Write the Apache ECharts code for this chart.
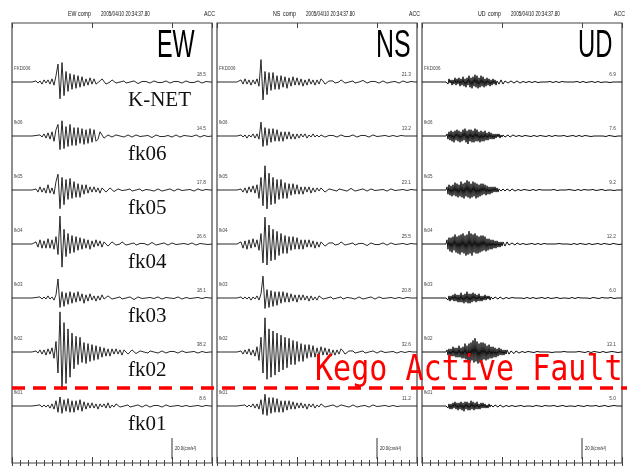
<!DOCTYPE html>
<html><head><meta charset="utf-8">
<script src="https://cdn.jsdelivr.net/npm/echarts@6/dist/echarts.min.js"></script>
<style>html,body{margin:0;padding:0;background:#fff}#c{width:627px;height:466px}</style>
</head><body><div id="c"></div>
<script>
// Station list, top to bottom
const stations = ['FKD006', 'fk06', 'fk05', 'fk04', 'fk03', 'fk02', 'fk01'];
const stationNames = ['K-NET', 'fk06', 'fk05', 'fk04', 'fk03', 'fk02', 'fk01'];
const components = ['EW', 'NS', 'UD'];
const recordTime = '2005/04/10 20:34:37.80';
const sampleSteps = { EW: 0.25, NS: 0.25, UD: 0.125 };   // seconds between samples
const duration = 25;          // seconds shown per panel
const scaleBarValue = 20.0;   // cm/s^2
const scaleBarUnit = '20.0(cm/s²)';
const faultLabel = 'Kego Active Fault';

// Horizontal records (cm/s^2), one sample every 0.25 s from t = 0
const ew_FKD006 = [0,0,0,0,0,0,0,0,0,0,0,0,
 1,-1,1,-2,2,-1,2,-2,3,
 -3,6,17,-16,18.5,-13,10,-9,8,-7,
 7,-6,6,-5,5,-4,3,-3,4,-2,
 3,-2,-3,1,3,2,-2,-3,0,2,
 2,-1,-2,0,1.5,1,-1,-1.5,0,1.5,
 1,-0.5,-1.5,-1,0.5,1.5,0.5,-1,-1,0.5,
 1,1,-0.5,-1.5,-0.5,1,1,0,-1,-1,
 0.5,1,0.5,-0.5,-1,0,1,0.5,-0.5,-1,
 -0.5,0.5,1,0,-1,-0.5,0.5,0.5,0,0];
const ew_fk06 = [0,0,0,0,0,0,0,0,0,0,0,0,
 0.5,-1,1,-1,2,-2,3,-3,4,
 -5,6,11,-13,14.5,-12,9,-10,11,-9,
 8,-9,8,-7,7,-8,6,-7,7,-6,
 6,-5,-3,4,3,-2,-3,1,2,-1,
 -1.5,1,1.5,0,-1,-1,0.5,1,0,-1,
 -0.5,1,1,-0.5,-1,0,1,0.5,-0.5,-1.5,
 0,1,1,-0.5,-1,-0.5,1,0.5,-0.5,-1,
 0,1,0.5,-1,-0.5,0.5,1,0,-1,-0.5,
 0.5,1,0,-1,-0.5,0.5,0.5,-0.5,0,0];
const ew_fk05 = [0,0,0,0,0,0,0,0,0,0,0,0,
 1,-2,3,-2,2,-3,5,-3,2,
 -4,8,15,-17.8,12,-14,10,-9,11,-8,
 8,-7,6,-7,5,-4,5,-3,3,-2,
 3,-2,2,-3,2,1,-2,-1,2,1,
 -1.5,-1,1,1.5,-0.5,-1.5,0,1.5,1,-1,
 -1.5,0,1,1,-1,-1,0.5,1.5,0,-1,
 -1,0.5,1,0.5,-1,-1,0,1,1,-0.5,
 -1,-0.5,1,0.5,-0.5,-1,0,1,0.5,-0.5,
 -1,0,1,0.5,-0.5,-0.5,0.5,0.5,0,0];
const ew_fk04 = [0,0,0,0,0,0,0,0,0,0,0,0,
 2,-3,4,-4,3,-4,5,-4,4,
 -5,7,-10,26.6,-22,14,-12,10,-9,8,
 -8,7,-6,6,-5,5,-4,4,-5,3,
 -3,4,-2,3,-3,2,1,-2,-2,2,
 2,-1,-2,0,2,1.5,-1,-2,0,1.5,
 1,-1,-1.5,0.5,1.5,0.5,-1,-1,0.5,1.5,
 0.5,-1,-1.5,0,1,1,-0.5,-1,0,1,
 0.5,-0.5,-1,0,1,0.5,-1,-0.5,0.5,1,
 0,-1,-0.5,0.5,1,0,-0.5,-0.5,0,0];
const ew_fk03 = [0,0,0,0,0,0,0,0,0,0,0,0,
 0.5,-1,1,-1,1,-1,2,-1,1,
 -2,3,18.1,-9,6,-8,5,-6,6,-5,
 5,-4,6,-3,4,-5,3,-3,4,-2,
 2,-3,2,-2,3,-1,-2,2,1,-1,
 -1.5,0,1.5,1,-1,-1,0,1,1,-0.5,
 -1.5,-0.5,1,1,-0.5,-1,0,1,0.5,-1,
 -0.5,0.5,1,0,-1,-0.5,0.5,1,0,-1,
 -0.5,0.5,1,0,-1,-0.5,0.5,0.5,-0.5,-0.5,
 0,0.5,0.5,-0.5,-0.5,0,0.5,0,0,0];
const ew_fk02 = [0,0,0,0,0,0,0,0,0,0,0,0,
 1,-1,2,-2,2,-3,3,-2,4,
 -6,10,-20,38.2,-36,28,-30,22,-24,18,
 -16,15,-12,14,-10,9,-11,8,-9,7,
 -8,6,-7,5,-5,4,-4,3,-4,3,
 -2,3,-2,2,-3,2,1,-2,-1,2,
 1,-1.5,-1,1,1.5,0,-1.5,-1,1,1.5,
 0,-1,-1,0.5,1,0.5,-1,-1,0.5,1,
 0.5,-0.5,-1,0,1,0.5,-0.5,-1,0,1,
 0.5,-0.5,-1,0,0.5,0.5,-0.5,0,0,0];
const ew_fk01 = [0,0,0,0,0,0,0,0,0,0,0,0,
 0.5,-0.5,1,-1,1,-1,1,-2,2,
 -3,5,-6,8.6,-7,6,-5,7,-6,5,
 -6,5,-4,6,-5,4,-3,3,-2,3,
 -2,2,-3,2,-1,2,-2,3,-2,1,
 -1,2,1,-1,-2,0,1.5,1,-1,-1.5,
 0,1,1,-0.5,-1,0,1,0.5,-1,-1,
 0.5,1,0.5,-0.5,-1,0,1,0.5,-0.5,-1,
 0,1,0.5,-0.5,-0.5,0.5,0.5,0,-0.5,-0.5,
 0,0.5,0.5,0,-0.5,0,0.5,0,0,0];

const ns_FKD006 = [0,0,0,0,0,0,0,0,0,0,0,0,
 2,-2,3,-2,2,-3,2,-2,3,
 -4,21.3,-17,10,-12,9,-8,9,-7,6,
 -7,6,-5,5,-6,4,-4,5,-3,4,
 -3,3,-4,2,-3,3,-2,2,-3,2,
 -2,3,1,-2,-2,1,2,1,-1,-2,
 0,2,1,-1,-1.5,0,1.5,1,-1,-1.5,
 0,1,1.5,0,-1,-1,0.5,1.5,0.5,-1,
 -1,0.5,1,0.5,-1,-1,0,1,0.5,-0.5,
 -1,0,1,0.5,-0.5,-0.5,0.5,0.5,0,0];
const ns_fk06 = [0,0,0,0,0,0,0,0,0,0,0,0,
 1,-1,1,-2,1,-1,2,-2,2,
 -3,13.2,-10,8,-9,7,-6,7,-5,6,
 -5,4,-5,4,-3,4,-3,2,-3,2,
 -2,2,-1,2,-2,1,-1,2,-1,1,
 -1,1,1,-1,-1,0.5,1,0.5,-1,-1,
 0,1,1,-0.5,-1,-0.5,1,1,0,-1,
 -1,0.5,1,0.5,-0.5,-1,0,1,0.5,-0.5,
 -1,0,1,0.5,-0.5,-0.5,0.5,0.5,0,-0.5,
 -0.5,0.5,0.5,0,-0.5,0,0.5,0,0,0];
const ns_fk05 = [0,0,0,0,0,0,0,0,0,0,0,0,
 1,-2,2,-3,3,-2,4,-3,5,
 -8,12,-15,23.1,-18,16,-14,12,-13,10,
 -9,10,-8,7,-8,6,-5,6,-4,5,
 -4,3,-4,3,-2,3,-3,2,-2,2,
 -1,2,1,-2,-1,1,2,0,-1.5,-1,
 1,1.5,0,-1,-1,0.5,1.5,0.5,-1,-1.5,
 0,1,1,-0.5,-1,-0.5,1,1,-0.5,-1,
 0,1,0.5,-0.5,-1,0,1,0.5,-0.5,-1,
 0,0.5,0.5,-0.5,-0.5,0.5,0.5,0,0,0];
const ns_fk04 = [0,0,0,0,0,0,0,0,0,0,0,0,
 2,-4,3,-5,4,-4,5,-3,4,
 -6,10,-18,25.5,-20,18,-16,14,-15,12,
 -11,10,-9,8,-9,7,-6,7,-5,6,
 -5,4,-5,4,-3,4,-3,3,-4,2,
 -3,2,2,-2,-2,1,2,1,-1,-2,
 0,2,1,-1,-2,0,1.5,1,-1,-1,
 0.5,1.5,0.5,-1,-1.5,0,1,1,-0.5,-1,
 -0.5,1,1,-0.5,-1,0,1,0.5,-0.5,-1,
 0,1,0.5,-0.5,-0.5,0.5,0.5,0,0,0];
const ns_fk03 = [0,0,0,0,0,0,0,0,0,0,0,0,
 1,-1,1,-1,1,-2,1,-1,2,
 -2,4,20.8,-10,8,-9,7,-8,6,-7,
 6,-5,6,-4,5,-4,4,-3,3,-4,
 3,-2,3,-2,2,-3,2,-2,1,-2,
 2,1,-1,-2,0,1.5,1,-1,-1.5,0,
 1.5,1,-1,-1,0.5,1.5,0,-1,-1,0.5,
 1,0.5,-1,-1,0,1,1,-0.5,-1,0,
 1,0.5,-0.5,-1,0,1,0.5,-0.5,-0.5,0.5,
 0.5,0,-0.5,-0.5,0.5,0.5,0,0,0,0];
const ns_fk02 = [0,0,0,0,0,0,0,0,0,0,0,0,
 1,-2,2,-2,3,-3,2,-4,5,
 -8,14,-20,32.6,-26,22,-24,20,-22,18,
 -19,16,-17,14,-15,13,-12,11,-12,10,
 -9,8,-9,7,-6,7,-5,6,-5,4,
 -4,5,-3,4,-3,3,-4,2,-3,2,
 -2,3,1,-2,-2,1,2,1,-1,-2,
 0,1.5,1,-1,-1.5,0,1,1,-0.5,-1,
 -0.5,1,1,-0.5,-1,0,1,0.5,-0.5,-1,
 0,0.5,0.5,-0.5,-0.5,0.5,0.5,0,0,0];
const ns_fk01 = [0,0,0,0,0,0,0,0,0,0,0,0,
 0.5,-1,1,-1,1,-1,2,-2,2,
 -3,6,-8,11.2,-9,8,-7,8,-6,7,
 -6,5,-6,5,-4,5,-3,4,-3,3,
 -2,3,-2,2,-3,2,-1,2,-2,1,
 -1,2,1,-1,-1.5,0,1,1,-0.5,-1,
 -0.5,1,1,0,-1,-1,0.5,1,0.5,-1,
 -1,0,1,0.5,-0.5,-1,0,1,0.5,-0.5,
 -1,0,0.5,0.5,-0.5,-0.5,0.5,0.5,0,-0.5,
 -0.5,0,0.5,0,-0.5,0,0.5,0,0,0];

// Vertical records (cm/s^2), one sample every 0.125 s from t = 0
const ud_FKD006 = [0,0,0,0,0,0,0,0,0,0,
 0,0,0,0,0,0,0,0,0,0,
 0,0,0,0,0,1,-2,3,-1,2,
 -3,2,-2,4,-3,3,-2,4,-4,3,
 -3,5,-4,3,-5,4,-3,6,-5,4,
 -6,5,-4,6.9,-5,6,-6,4,-5,6,
 -4,5,-5,3,-4,4,-3,3,-4,2,
 -3,3,-2,2,-3,1,2,-2,-1,2,
 1,-2,-1,1,2,0,-1,-1.5,0,1,
 1,0,-1,-1,0,1,0.5,-0.5,-1,0,
 0.5,0.5,0,-0.5,-0.5,0,0.5,0.5,0,-0.5,
 -0.5,0,0.5,0.5,0,-0.5,-0.5,0,0.5,0,
 -0.5,-0.5,0,0.5,0.5,0,-0.5,0,0.5,0.5,
 0,-0.5,-0.5,0,0.5,0,-0.5,-0.5,0,0.5,
 0.5,0,-0.5,0,0.5,0.5,0,-0.5,-0.5,0,
 0.5,0.5,0,-0.5,0,0.5,0,-0.5,-0.5,0,
 0.5,0.5,0,-0.5,-0.5,0,0.5,0,-0.5,0,
 0.5,0.5,0,-0.5,-0.5,0,0.5,0.5,0,-0.5,
 0,0.5,0,-0.5,-0.5,0,0.5,0,-0.5,0,
 0.5,0,-0.5,-0.5,0,0.5,0.5,0,-0.5,0,
 0];
const ud_fk06 = [0,0,0,0,0,0,0,0,0,0,
 0,0,0,0,0,0,0,0,0,0,
 0,0,0,0,0,2,-3,4,-4,5,
 -5,4,-6,5,-4,6,-5,5,-6,4,
 -5,6,-4,7,-6,5,-7.6,6,-5,6,
 -6,5,-6,7,-5,6,-5,4,-6,5,
 -5,4,-5,5,-4,3,-4,4,-3,3,
 -3,2,-3,2,-2,2,-1,2,-2,1,
 -1,1,1,-1,-1,0.5,1,0,-1,-0.5,
 0.5,1,0,-0.5,-0.5,0,0.5,0.5,0,-0.5,
 -0.5,0,0.5,0.5,0,-0.5,0,0.5,0,-0.5,
 -0.5,0,0.5,0.5,0,-0.5,-0.5,0,0.5,0,
 -0.5,0,0.5,0,-0.5,-0.5,0,0.5,0.5,0,
 -0.5,-0.5,0,0.5,0,-0.5,0,0.5,0.5,0,
 -0.5,0,0.5,0,-0.5,-0.5,0,0.5,0,-0.5,
 0,0.5,0.5,0,-0.5,-0.5,0,0.5,0,-0.5,
 -0.5,0,0.5,0.5,0,-0.5,0,0.5,0,-0.5,
 0,0.5,0,-0.5,-0.5,0,0.5,0.5,0,-0.5,
 -0.5,0,0.5,0,-0.5,0,0.5,0.5,0,-0.5,
 0,0.5,0,-0.5,0,0.5,0,-0.5,0,0,
 0];
const ud_fk05 = [0,0,0,0,0,0,0,0,0,0,
 0,0,0,0,0,0,0,0,0,0,
 0,0,0,0,0,3,-4,5,-5,4,
 -6,5,-5,7,-6,6,-7,5,-6,8,
 -7,6,-8,7,-6,9.2,-7,8,-8,6,
 -7,8,-6,7,-8,6,-7,5,-6,6,
 -5,6,-4,5,-5,4,-4,3,-4,3,
 -3,3,-2,3,-2,2,-2,1,2,-1,
 -2,1,1,-1,-1,1,1,-0.5,-1,0,
 1,0.5,-0.5,-1,0,0.5,0.5,0,-0.5,-0.5,
 0,0.5,0.5,0,-0.5,0,0.5,0,-0.5,-0.5,
 0,0.5,0.5,0,-0.5,-0.5,0,0.5,0,-0.5,
 0,0.5,0.5,0,-0.5,-0.5,0,0.5,0.5,0,
 -0.5,0,0.5,0,-0.5,-0.5,0,0.5,0,-0.5,
 -0.5,0,0.5,0.5,0,-0.5,0,0.5,0,-0.5,
 0,0.5,0,-0.5,-0.5,0,0.5,0.5,0,-0.5,
 -0.5,0,0.5,0,-0.5,0,0.5,0.5,0,-0.5,
 0,0.5,0,-0.5,-0.5,0,0.5,0,-0.5,0,
 0.5,0.5,0,-0.5,0,0.5,0,-0.5,-0.5,0,
 0.5,0,-0.5,0,0.5,0,-0.5,0,0,0,
 0];
const ud_fk04 = [0,0,0,0,0,0,0,0,0,0,
 0,0,0,0,0,0,0,0,0,0,
 0,0,0,0,0,4,-5,6,-7,6,
 -8,7,-6,9,-8,7,-9,8,-10,9,
 -8,10,-9,8,-11,9,-10,12.2,-9,10,
 -11,9,-8,10,-9,8,-9,7,-8,8,
 -7,8,-6,7,-7,5,-6,5,-5,4,
 -5,4,-4,3,-4,3,-3,2,-3,2,
 -2,2,2,-2,-1,2,1,-1,-1.5,0,
 1,1,-0.5,-1,0,1,0.5,-0.5,-0.5,0,
 0.5,0.5,0,-0.5,-0.5,0,0.5,0,-0.5,0,
 0.5,0.5,0,-0.5,-0.5,0,0.5,0.5,0,-0.5,
 -0.5,0,0.5,0,-0.5,0,0.5,0.5,0,-0.5,
 -0.5,0,0.5,0.5,0,-0.5,0,0.5,0,-0.5,
 0,0.5,0.5,0,-0.5,-0.5,0,0.5,0,-0.5,
 -0.5,0,0.5,0.5,0,-0.5,-0.5,0,0.5,0,
 -0.5,0,0.5,0,-0.5,-0.5,0,0.5,0.5,0,
 -0.5,0,0.5,0,-0.5,0,0.5,0.5,0,-0.5,
 -0.5,0,0.5,0,-0.5,0,0.5,0,-0.5,0,
 0.5,0.5,0,-0.5,0,0.5,0,-0.5,0,0,
 0];
const ud_fk03 = [0,0,0,0,0,0,0,0,0,0,
 0,0,0,0,0,0,0,0,0,0,
 0,0,0,0,0,1,-2,2,-3,2,
 -2,3,-3,4,-3,3,-4,3,-4,5,
 -4,3,-5,4,-4,6,-5,4,-5,4,
 -4,5,-3,4,-4,3,-3,4,-3,2,
 -3,2,-2,3,-2,2,-1,2,-2,1,
 1,-1,-1,1,1,-0.5,-1,0,1,0.5,
 -0.5,-1,0,0.5,0.5,0,-0.5,-0.5,0,0.5,
 0.5,0,-0.5,0,0.5,0.5,0,-0.5,-0.5,0,
 0.5,0,-0.5,-0.5,0,0.5,0.5,0,-0.5,0,
 0.5,0.5,0,-0.5,-0.5,0,0.5,0,-0.5,0,
 0.5,0,-0.5,-0.5,0,0.5,0.5,0,-0.5,-0.5,
 0,0.5,0,-0.5,0,0.5,0.5,0,-0.5,0,
 0.5,0,-0.5,-0.5,0,0.5,0,-0.5,0,0.5,
 0.5,0,-0.5,-0.5,0,0.5,0.5,0,-0.5,0,
 0,0.5,0,-0.5,-0.5,0,0.5,0,-0.5,0,
 0.5,0.5,0,-0.5,0,0.5,0,-0.5,-0.5,0,
 0.5,0,-0.5,0,0.5,0.5,0,-0.5,0,0.5,
 0,-0.5,-0.5,0,0.5,0,-0.5,0,0,0,
 0];
const ud_fk02 = [0,0,0,0,0,0,0,0,0,0,
 0,0,0,0,0,0,0,0,0,0,
 0,0,0,0,0,2,-3,3,-4,3,
 -4,5,-4,4,-5,4,-5,6,-5,4,
 -6,5,-6,8,-7,6,-9,8,-10,9,
 -8,11,-10,13.1,-9,10,-11,8,-10,9,
 -8,9,-7,8,-8,6,-7,7,-6,5,
 -6,5,-5,4,-5,3,-4,4,-3,3,
 -3,2,-3,2,-2,2,1,-2,-1,1,
 2,0,-1.5,-1,1,1,0,-1,-0.5,0.5,
 0.5,0,-0.5,-0.5,0,0.5,0.5,0,-0.5,0,
 0.5,0,-0.5,-0.5,0,0.5,0,-0.5,0,0.5,
 0.5,0,-0.5,-0.5,0,0.5,0.5,0,-0.5,0,
 -0.5,0,0.5,0,-0.5,-0.5,0,0.5,0.5,0,
 -0.5,0,0.5,0,-0.5,0,0.5,0.5,0,-0.5,
 -0.5,0,0.5,0.5,0,-0.5,0,0.5,0,-0.5,
 0,0.5,0,-0.5,-0.5,0,0.5,0.5,0,-0.5,
 -0.5,0,0.5,0,-0.5,0,0.5,0,-0.5,0,
 0.5,0.5,0,-0.5,-0.5,0,0.5,0,-0.5,0,
 0.5,0,-0.5,0,0.5,0,-0.5,0,0,0,
 0];
const ud_fk01 = [0,0,0,0,0,0,0,0,0,0,
 0,0,0,0,0,0,0,0,0,0,
 0,0,0,0,0,1,-2,2,-3,2,
 -3,3,-2,4,-3,3,-4,3,-3,4,
 -4,3,-5,4,-3,4,-4,3,-4,5,
 -3,4,-4,3,-3,4,-3,2,-3,3,
 -2,3,-2,2,-2,1,-2,2,-1,1,
 1,-1,-1,1,1,-0.5,-1,0,1,0.5,
 -0.5,-1,0,0.5,0.5,0,-0.5,-0.5,0,0.5,
 0.5,0,-0.5,-0.5,0,0.5,0,-0.5,0,0.5,
 0.5,0,-0.5,0,0.5,0,-0.5,-0.5,0,0.5,
 0,-0.5,0,0.5,0.5,0,-0.5,0,0.5,0,
 -0.5,-0.5,0,0.5,0,-0.5,0,0.5,0.5,0,
 -0.5,0,0.5,0,-0.5,-0.5,0,0.5,0,-0.5,
 0,0.5,0.5,0,-0.5,0,0.5,0,-0.5,-0.5,
 0,0.5,0,-0.5,0,0.5,0.5,0,-0.5,0,
 0.5,0,-0.5,-0.5,0,0.5,0,-0.5,0,0.5,
 0.5,0,-0.5,0,0.5,0,-0.5,-0.5,0,0.5,
 0,-0.5,0,0.5,0.5,0,-0.5,0,0.5,0,
 -0.5,0,0.5,0,-0.5,0,0,0,0,0,
 0];

const records = {
  EW: [ew_FKD006, ew_fk06, ew_fk05, ew_fk04, ew_fk03, ew_fk02, ew_fk01],
  NS: [ns_FKD006, ns_fk06, ns_fk05, ns_fk04, ns_fk03, ns_fk02, ns_fk01],
  UD: [ud_FKD006, ud_fk06, ud_fk05, ud_fk04, ud_fk03, ud_fk02, ud_fk01]
};

// ---- layout (pixels) ----
const panelLeft = [12, 217, 422];
const panelWidth = 200;
const panelTop = 23;
const panelBottom = 463;
const baselines = [82, 136, 190, 244, 298, 352, 406];
const pxPerUnit = 1.05;       // vertical pixels per cm/s^2
const traceHalf = 60;         // half height of each trace strip
const traceWidth = { EW: 0.9, NS: 0.9, UD: 1.0 };

const grids = [], xAxes = [], yAxes = [], series = [], graphics = [];
const inkColor = '#111';
const smallFont = '6px "Liberation Sans", Arial, sans-serif';

function addText(x, y, text, font, fill, align, vAlign, sx, sy, z) {
  graphics.push({
    type: 'text', x: x, y: y, z: z || 10, scaleX: sx || 1, scaleY: sy || 1,
    originX: 0, originY: 0, silent: true,
    style: { text: text, font: font, fill: fill, textAlign: align, align: align,
             textVerticalAlign: vAlign, verticalAlign: vAlign }
  });
}

components.forEach(function (comp, p) {
  const left = panelLeft[p];
  const right = left + panelWidth;
  const dt = sampleSteps[comp];

  // panel frame with time ticks (1 s minor, 10 s major)
  const fg = grids.length;
  grids.push({ left: left, top: panelTop, width: panelWidth, height: panelBottom - panelTop,
               show: true, borderColor: '#444', borderWidth: 1.2, backgroundColor: 'transparent' });
  [['top', 1, 3], ['top', 10, 5], ['bottom', 1, 3], ['bottom', 10, 6]].forEach(function (a) {
    xAxes.push({ type: 'value', gridIndex: fg, position: a[0], min: 0, max: duration, interval: a[1],
      axisLine: { show: false }, axisLabel: { show: false }, splitLine: { show: false },
      axisTick: { show: true, inside: true, length: a[2], lineStyle: { color: '#444', width: 1 } } });
  });
  yAxes.push({ type: 'value', gridIndex: fg, min: 0, max: 1, show: false });

  // header
  addText(left + 56, 14, comp, '7px "Liberation Sans", Arial, sans-serif', '#111', 'left', 'middle', 0.75);
  addText(left + 66, 14, 'comp', '7px "Liberation Sans", Arial, sans-serif', '#111', 'left', 'middle', 0.75);
  addText(left + 89, 14, recordTime, '7px "Liberation Sans", Arial, sans-serif', '#111', 'left', 'middle', 0.66);
  addText(left + 192, 14, 'ACC', '7px "Liberation Sans", Arial, sans-serif', '#111', 'left', 'middle', 0.75);

  // traces
  records[comp].forEach(function (values, k) {
    const base = baselines[k];
    const gi = grids.length;
    grids.push({ left: left, top: base - traceHalf, width: panelWidth, height: traceHalf * 2 });
    xAxes.push({ type: 'value', gridIndex: gi, min: 0, max: duration, show: false });
    yAxes.push({ type: 'value', gridIndex: gi, min: -traceHalf / pxPerUnit, max: traceHalf / pxPerUnit, show: false });
    series.push({
      type: 'line', xAxisIndex: xAxes.length - 1, yAxisIndex: yAxes.length - 1,
      data: values.map(function (v, i) { return [i * dt, v]; }),
      showSymbol: false, symbol: 'none', clip: false, silent: true,
      lineStyle: { color: inkColor, width: traceWidth[comp] }, z: 3
    });
    const peak = Math.max.apply(null, values.map(Math.abs));
    addText(left + 2, base - 14, stations[k], smallFont, '#444', 'left', 'middle', 0.75);
    addText(right - 6, base - 8, peak.toFixed(1), smallFont, '#444', 'right', 'middle', 0.8);

    // scale bar in the lowest strip
    if (k === stations.length - 1) {
      series.push({
        type: 'line', xAxisIndex: xAxes.length - 1, yAxisIndex: yAxes.length - 1,
        data: [[20, -30.5], [20, -30.5 - scaleBarValue]],
        showSymbol: false, symbol: 'none', clip: false, silent: true,
        lineStyle: { color: '#333', width: 1 }, z: 3
      });
      addText(left + 163, base + 42, scaleBarUnit, smallFont, '#222', 'left', 'middle', 0.7);
    }
  });
});

// component titles
addText(157, 46, 'EW', '39px "Liberation Sans", Arial, sans-serif', '#000', 'left', 'middle', 0.6);
addText(376, 46, 'NS', '39px "Liberation Sans", Arial, sans-serif', '#000', 'left', 'middle', 0.64);
addText(578, 46, 'UD', '39px "Liberation Sans", Arial, sans-serif', '#000', 'left', 'middle', 0.61);

// station names beside the EW traces
stationNames.forEach(function (name, k) {
  addText(128, baselines[k] + 18, name, '21px "Liberation Serif", "Times New Roman", serif', '#111', 'left', 'middle');
});

// fault line and label
graphics.push({
  type: 'line', z: 20, silent: true,
  shape: { x1: 12, y1: 388, x2: 627, y2: 388 },
  style: { stroke: '#ff0000', lineWidth: 3.5, lineDash: [13, 8] }
});
addText(315, 371, faultLabel, '36px "DejaVu Sans Mono", monospace', '#ff0000', 'left', 'middle', 0.835, 1, 21);

const chart = echarts.init(document.getElementById('c'), null, { renderer: 'canvas' });
chart.setOption({
  animation: false,
  backgroundColor: '#fff',
  grid: grids, xAxis: xAxes, yAxis: yAxes, series: series, graphic: graphics
});
</script></body></html>
